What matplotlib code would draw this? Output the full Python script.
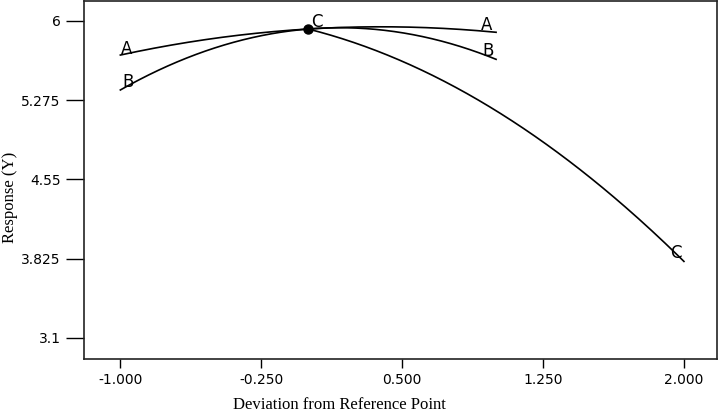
import matplotlib
matplotlib.use("Agg")
import matplotlib.pyplot as plt
import numpy as np

# Data (perturbation plot)
x_ab = [-1.0, -0.75, -0.5, -0.25, 0.0, 0.25, 0.5, 0.75, 1.0]
y_a = [5.686, 5.771, 5.838, 5.890, 5.924, 5.942, 5.942, 5.927, 5.894]
y_b = [5.367, 5.584, 5.750, 5.863, 5.924, 5.933, 5.890, 5.794, 5.647]
x_c = [0.0, 0.25, 0.5, 0.75, 1.0, 1.25, 1.5, 1.75, 2.0]
y_c = [5.924, 5.796, 5.629, 5.423, 5.177, 4.892, 4.567, 4.203, 3.800]
ref_x, ref_y = 0.0, 5.924

x_ticks = [-1.0, -0.25, 0.5, 1.25, 2.0]
x_tick_labels = ["-1.000", "-0.250", "0.500", "1.250", "2.000"]
y_ticks = [3.1, 3.825, 4.55, 5.275, 6.0]
y_tick_labels = ["3.1", "3.825", "4.55", "5.275", "6"]

W, H = 721, 413
fig = plt.figure(figsize=(W / 100, H / 100), dpi=100)
ax = fig.add_axes([84.3 / W, 1 - 359 / H, (717 - 84.3) / W, (359 - 1) / H])

lw = 1.2


def smooth(xs, ys):
    # quadratic response curve through the read points
    coef = np.polyfit(xs, ys, 2)
    xf = np.linspace(min(xs), max(xs), 200)
    return xf, np.polyval(coef, xf)


for xs, ys in ((x_ab, y_a), (x_ab, y_b), (x_c, y_c)):
    xf, yf = smooth(xs, ys)
    ax.plot(xf, yf, color="black", lw=lw)
ax.plot([ref_x], [ref_y], "o", color="black", markersize=6.5, zorder=5)

lab = dict(fontsize=12, family="DejaVu Sans", color="black",
           textcoords="offset pixels")
ax.annotate("A", (x_ab[0], y_a[0]), xytext=(1, 1.3), ha="left", va="baseline", **lab)
ax.annotate("B", (x_ab[0], y_b[0]), xytext=(2, 3.3), ha="left", va="baseline", **lab)
ax.annotate("A", (x_ab[-1], y_a[-1]), xytext=(-4, 2.7), ha="right", va="baseline", **lab)
ax.annotate("B", (x_ab[-1], y_b[-1]), xytext=(-2, 3.6), ha="right", va="baseline", **lab)
ax.annotate("C", (x_c[0], y_c[0]), xytext=(3, 2.3), ha="left", va="baseline", **lab)
ax.annotate("C", (x_c[-1], y_c[-1]), xytext=(-2, 3), ha="right", va="baseline", **lab)

ax.set_xlim(-1.192, 2.176)
ax.set_ylim(2.908, 6.18)
ax.set_xticks(x_ticks)
ax.set_xticklabels(x_tick_labels, family="DejaVu Sans", fontsize=10)
ax.set_yticks(y_ticks)
ax.set_yticklabels(y_tick_labels, family="DejaVu Sans", fontsize=10)
ax.tick_params(axis="x", direction="out", length=6.5, width=1, pad=3.5, colors="black")
ax.tick_params(axis="y", direction="out", length=13, width=1, pad=4, colors="black")
for s in ax.spines.values():
    s.set_linewidth(1.2)
    s.set_color("#222222")

fig.text(339 / W, 1 - 405 / H, "Deviation from Reference Point", ha="center",
         va="center", family="Liberation Serif", fontsize=12)
fig.text(10 / W, 1 - 197 / H, "Response (Y)", ha="center", va="center",
         rotation=90, family="Liberation Serif", fontsize=12)

fig.savefig("out.png", dpi=100)
